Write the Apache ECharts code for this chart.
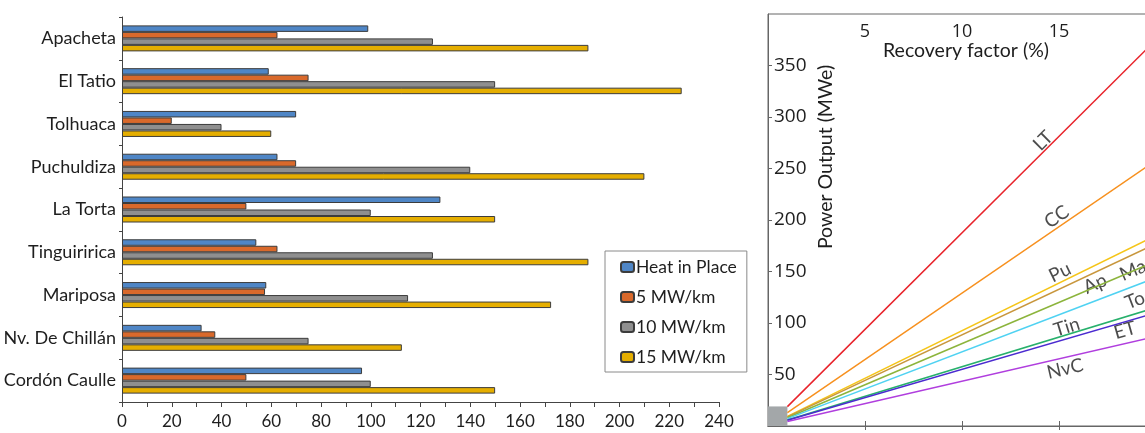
<!DOCTYPE html>
<html>
<head>
<meta charset="utf-8">
<script src="https://cdn.jsdelivr.net/npm/echarts@6/dist/echarts.min.js"></script>
<style>
  html, body { margin: 0; padding: 0; background: #fff; }
  #chart { width: 1145px; height: 433px; }
</style>
</head>
<body>
<div id="chart"></div>
<script>
  // left panel: power estimates per field
  const categories = ['Apacheta', 'El Tatio', 'Tolhuaca', 'Puchuldiza', 'La Torta', 'Tinguiririca', 'Mariposa', 'Nv. De Chillán', 'Cordón Caulle'];
  const heatInPlace = [99, 59, 70, 62.5, 128, 54, 58, 32, 96.5];
  const mw5 = [62.5, 75, 20, 70, 50, 62.5, 57.5, 37.5, 50];
  const mw10 = [125, 150, 40, 140, 100, 125, 115, 75, 100];
  const mw15 = [187.5, 225, 60, 210, 150, 187.5, 172.5, 112.5, 150];
  const barNames = ['Heat in Place', '5 MW/km', '10 MW/km', '15 MW/km'];

  // right panel: power output vs recovery factor
  const lineNames = ['LT', 'CC', 'Pu', 'Ap', 'Ma', 'To', 'Tin', 'ET', 'NvC'];
  const recoveryStart = 1;
  const recoveryEnd = 20;
  const powerAtStart = [18.8, 12.9, 9.3, 8.9, 8.0, 7.2, 5.8, 5.5, 4.4];
  const powerAtEnd = [375, 258, 185, 177, 160, 144, 115, 110, 87];
  const labelRf = [14.18, 14.88, 15.05, 16.86, 18.81, 18.92, 15.4, 18.4, 15.31];
  const labelPower = [277, 203, 149, 138, 151, 122, 96, 93, 55.5];
  const originBox = [[0, 0], [1, 19]];

  const barColors = ['#4f86c6', '#d9692b', '#8f8f8f', '#e5ae00'];
  const lineColors = ['#e8232b', '#f7901e', '#f5c518', '#c8963c', '#8cb43c', '#4fd2f2', '#27b06c', '#4b2bd0', '#b03ede'];
  const labelAngles = [45, 34, 26, 25, 23, 21, 17, 16, 13];

  const font = 'Lato, "Open Sans", sans-serif';
  var myChart = echarts.init(document.getElementById('chart'), null, { renderer: 'canvas' });

  const barSeries = [heatInPlace, mw5, mw10, mw15].map((d, i) => ({
    name: barNames[i],
    type: 'bar',
    xAxisIndex: 0,
    yAxisIndex: 0,
    data: d,
    barWidth: 6.5,
    barGap: '0%',
    itemStyle: { color: barColors[i], borderColor: '#3c3c3c', borderWidth: 1 }
  }));

  const lineSeries = lineNames.map((n, i) => ({
    name: n,
    type: 'line',
    xAxisIndex: 1,
    yAxisIndex: 1,
    data: [[recoveryStart, powerAtStart[i]], [recoveryEnd, powerAtEnd[i]]],
    symbol: 'none',
    lineStyle: { color: lineColors[i], width: 1.5 },
    z: 3
  }));
  // grey box in the corner
  lineSeries[0].markArea = {
    silent: true,
    itemStyle: { color: '#a3a7a9', opacity: 1 },
    data: [[{ coord: originBox[0] }, { coord: originBox[1] }]]
  };

  const labelSeries = {
    type: 'scatter',
    xAxisIndex: 1,
    yAxisIndex: 1,
    symbolSize: 0,
    silent: true,
    data: lineNames.map((n, i) => ({
      value: [labelRf[i], labelPower[i]],
      label: { rotate: labelAngles[i] }
    })),
    label: {
      show: true,
      position: 'inside',
      formatter: (p) => lineNames[p.dataIndex],
      color: '#1e1e1e',
      fontSize: 19,
      fontFamily: font
    }
  };

  const option = {
    animation: false,
    textStyle: { fontFamily: font },
    legend: {
      data: barNames,
      orient: 'vertical',
      left: 605,
      top: 251,
      itemWidth: 13,
      itemHeight: 10,
      itemGap: 10,
      padding: [6, 10, 5, 15],
      borderColor: '#8a8a8a',
      borderWidth: 1,
      textStyle: { fontSize: 17.5, color: '#1e1e1e', lineHeight: 20, padding: [0, 0, 0, -3] }
    },
    graphic: [
      {
        type: 'text', x: 966, y: 51,
        style: { text: 'Recovery factor (%)', font: '19.5px ' + font, fill: '#1e1e1e', align: 'center', verticalAlign: 'middle' }
      },
      {
        type: 'text', x: 826, y: 157, rotation: Math.PI / 2,
        style: { text: 'Power Output (MWe)', font: '19.5px ' + font, fill: '#1e1e1e', align: 'center', verticalAlign: 'middle' }
      }
    ],
    grid: [
      { left: 122, top: 17, right: 426, bottom: 31, containLabel: false, outerBoundsMode: 'none' },
      { left: 768, top: 14, right: -11, bottom: 7, containLabel: false, outerBoundsMode: 'none',
        show: true, borderColor: '#666', borderWidth: 1 }
    ],
    xAxis: [
      {
        type: 'value', gridIndex: 0, min: 0, max: 240, interval: 20,
        axisLine: { show: true, lineStyle: { color: '#444' } },
        axisTick: { show: true, length: 5, lineStyle: { color: '#444' } },
        minorTick: { show: true, splitNumber: 2, length: 5, lineStyle: { color: '#444' } },
        splitLine: { show: false },
        axisLabel: { fontSize: 17, color: '#1e1e1e', margin: 11 }
      },
      {
        type: 'value', gridIndex: 1, position: 'top', min: 0, max: 20, interval: 5,
        axisLine: { show: true, lineStyle: { color: '#666' } },
        axisTick: { show: true, inside: true, length: 4, lineStyle: { color: '#666' } },
        splitLine: { show: false },
        axisLabel: { inside: true, fontSize: 18, color: '#1e1e1e', margin: 9, showMinLabel: false, showMaxLabel: false, fontFamily: '"Open Sans", sans-serif' }
      },
      {
        type: 'value', gridIndex: 1, position: 'bottom', min: 0, max: 20, interval: 5,
        axisLine: { show: true, lineStyle: { color: '#666' } },
        axisTick: { show: true, inside: true, length: 5, lineStyle: { color: '#666' } },
        splitLine: { show: false },
        axisLabel: { show: false }
      }
    ],
    yAxis: [
      {
        type: 'category', gridIndex: 0, data: categories, inverse: true,
        axisLine: { show: true, lineStyle: { color: '#444' } },
        axisTick: { show: true, length: 3, lineStyle: { color: '#444' } },
        axisLabel: { fontSize: 18, color: '#1e1e1e', margin: 6 }
      },
      {
        type: 'value', gridIndex: 1, min: 0, max: 400, interval: 50,
        axisLine: { show: true, lineStyle: { color: '#666' } },
        axisTick: { show: true, inside: true, length: 4, lineStyle: { color: '#666' } },
        splitLine: { show: false },
        axisLabel: { inside: true, fontSize: 19, color: '#1e1e1e', margin: 6, showMinLabel: false, showMaxLabel: false, fontFamily: '"Open Sans", sans-serif' }
      }
    ],
    series: [...barSeries, ...lineSeries, labelSeries]
  };

  option && myChart.setOption(option);
</script>
</body>
</html>
